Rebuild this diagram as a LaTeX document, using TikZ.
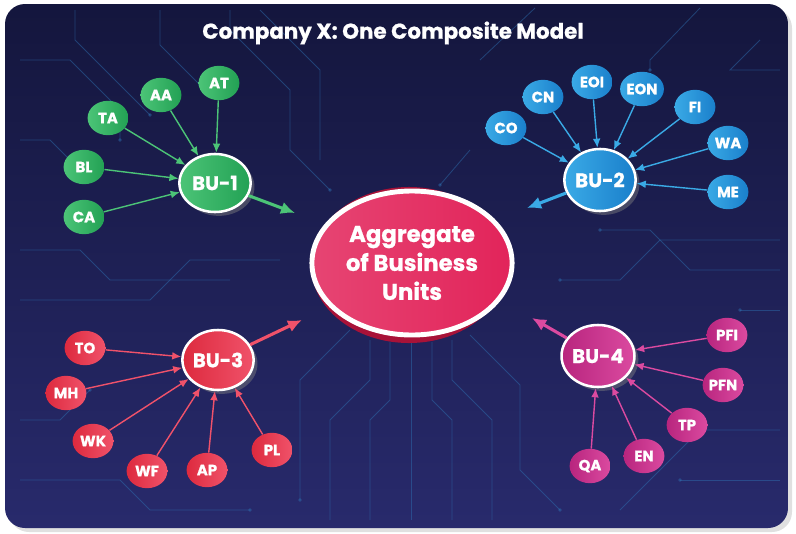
\documentclass[tikz,border=0pt]{standalone}
\usepackage{fontspec}
\setmainfont{Poppins}[BoldFeatures={FakeBold=0.8}]
\usetikzlibrary{shapes.geometric, arrows.meta, shadows}
\definecolor{panelTop}{HTML}{14163D}
\definecolor{panelBot}{HTML}{282A6C}
\definecolor{trace}{HTML}{2F74B5}
\definecolor{buGreen}{HTML}{22A154}
\definecolor{buGreenL}{HTML}{4CC477}
\definecolor{buBlue}{HTML}{1A7FCB}
\definecolor{buBlueL}{HTML}{3AAAE6}
\definecolor{buRed}{HTML}{DD2A3E}
\definecolor{buRedL}{HTML}{F0526A}
\definecolor{buPink}{HTML}{B8257E}
\definecolor{buPinkL}{HTML}{DB4AA0}
\definecolor{aggRed}{HTML}{E2245A}
\definecolor{aggDark}{HTML}{A81238}

\begin{document}
\begin{tikzpicture}[x=0.025cm, y=-0.025cm,
    sat/.style={ellipse, inner sep=0pt, minimum width=1.02cm, minimum height=0.86cm,
      text=white, font=\bfseries\fontsize{10.6}{11}\selectfont},
    hub/.style={ellipse, draw=white, line width=1.8pt, inner sep=0pt,
      minimum width=1.78cm, minimum height=1.5cm, text=white,
      font=\bfseries\fontsize{14}{15}\selectfont, drop shadow={opacity=0.45}},
    feed/.style={-{Latex[length=6.5pt,width=5.5pt]}, line width=1pt},
    toagg/.style={-{Latex[length=10pt,width=9pt]}, line width=2.2pt},
    trc/.style={trace, opacity=0.45, line width=0.6pt}]
  \useasboundingbox (0,0) rectangle (796,533);

  % panel
  \fill[black!12, rounded corners=0.5cm] (9,8) rectangle (792,532);
  \shade[top color=panelTop, bottom color=panelBot, rounded corners=0.5cm]
    (5,4) rectangle (788,528);

  % circuit traces
  \draw[trc] (20,60) -- (70,60) -- (120,110) -- (120,140);
  \draw[trc] (75,10) -- (75,40) -- (150,115);
  \draw[trc] (230,10) -- (230,30) -- (290,90) -- (290,150) -- (330,190);
  \draw[trc] (260,10) -- (320,70) -- (320,160);
  \draw[trc] (160,10) -- (160,45) -- (200,85);
  \draw[trc] (20,250) -- (80,250) -- (110,280) -- (230,280);
  \draw[trc] (20,300) -- (150,300) -- (190,260) -- (280,260);
  \draw[trc] (20,140) -- (50,140) -- (90,180);
  \draw[trc] (480,60) -- (535,8);
  \draw[trc] (700,8) -- (650,60) -- (650,70);
  \draw[trc] (760,40) -- (730,70) -- (780,70);
  \draw[trc] (470,150) -- (440,185);
  \draw[trc] (600,230) -- (650,230) -- (690,270) -- (780,270);
  \draw[trc] (560,280) -- (620,280) -- (660,240) -- (780,240);
  \draw[trc] (740,310) -- (780,310);
  \draw[trc] (370,340) -- (370,380) -- (330,420) -- (330,520);
  \draw[trc] (390,342) -- (390,400) -- (370,420) -- (370,520);
  \draw[trc] (411,343) -- (411,520);
  \draw[trc] (432,342) -- (432,400) -- (452,420) -- (452,520);
  \draw[trc] (452,340) -- (452,380) -- (492,420) -- (492,520);
  \draw[trc] (470,335) -- (520,385) -- (520,470) -- (560,510);
  \draw[trc] (350,330) -- (300,380) -- (300,500);
  \draw[trc] (20,480) -- (120,480) -- (150,510) -- (250,510);
  \draw[trc] (20,420) -- (60,420) -- (90,390);
  \draw[trc] (680,480) -- (780,480);
  \draw[trc] (620,510) -- (700,430) -- (780,430);
  \foreach \p in {(120,140),(150,115),(200,85),(330,190),(90,180),(650,70),
      (440,185),(600,230),(560,280),(740,310),(300,500),(560,510),(90,390),
      (680,480),(250,510)}
    \fill[trc] \p circle (1.3pt);

  % title
  \node[text=white, font=\bfseries\fontsize{15.2}{16}\selectfont] (title) at (393,33)
    {Company X: One Composite Model};

  % aggregate
  \node[ellipse, fill=aggDark, minimum width=4.9cm, minimum height=3.9cm] (aggOut)
    at (409,265) {};
  \node[ellipse, draw=white, line width=3.5pt, left color=aggRed!85!white,
    right color=aggRed, minimum width=4.55cm, minimum height=3.6cm, align=center,
    text=white, font=\bfseries\fontsize{16.2}{20.6}\selectfont] (agg) at (412,263)
    {Aggregate\\of Business\\Units};

  % BU-1 group
  \node[hub, left color=buGreenL, right color=buGreen, minimum height=1.45cm] (bu1) at (215,183) {BU-1};
  \node[sat, left color=buGreenL, right color=buGreen] (at) at (219,83) {AT};
  \node[sat, left color=buGreenL, right color=buGreen] (aa) at (161,95) {AA};
  \node[sat, left color=buGreenL, right color=buGreen] (ta) at (108,118) {TA};
  \node[sat, left color=buGreenL, right color=buGreen] (bl) at (84,167) {BL};
  \node[sat, left color=buGreenL, right color=buGreen] (ca) at (84,217) {CA};
  \foreach \s in {at,aa,ta,bl,ca}
    \draw[feed, buGreenL] (\s) -- (bu1);
  \coordinate (tip1) at (295,213);
  \draw[toagg, buGreenL] (bu1) -- (tip1);

  % BU-2 group
  \node[hub, left color=buBlueL, right color=buBlue, minimum height=1.55cm] (bu2) at (600,180) {BU-2};
  \node[sat, left color=buBlueL, right color=buBlue] (co) at (506,128) {CO};
  \node[sat, left color=buBlueL, right color=buBlue] (cn) at (543,97) {CN};
  \node[sat, left color=buBlueL, right color=buBlue] (eoi) at (592,82) {EOI};
  \node[sat, left color=buBlueL, right color=buBlue] (eon) at (642,89) {EON};
  \node[sat, left color=buBlueL, right color=buBlue] (fi) at (695,107) {FI};
  \node[sat, left color=buBlueL, right color=buBlue] (wa) at (728,143) {WA};
  \node[sat, left color=buBlueL, right color=buBlue] (me) at (728,192) {ME};
  \foreach \s in {co,cn,eoi,eon,fi,wa,me}
    \draw[feed, buBlueL] (\s) -- (bu2);
  \coordinate (tip2) at (527,208);
  \draw[toagg, buBlueL] (bu2) -- (tip2);

  % BU-3 group
  \node[hub, left color=buRed, right color=buRedL] (bu3) at (218,360) {BU-3};
  \node[sat, left color=buRed, right color=buRedL] (to) at (85,348) {TO};
  \node[sat, left color=buRed, right color=buRedL] (mh) at (66,393) {MH};
  \node[sat, left color=buRed, right color=buRedL] (wk) at (93,441) {WK};
  \node[sat, left color=buRed, right color=buRedL] (wf) at (147,471) {WF};
  \node[sat, left color=buRed, right color=buRedL] (ap) at (207,470) {AP};
  \node[sat, left color=buRed, right color=buRedL] (pl) at (272,450) {PL};
  \foreach \s in {to,mh,wk,wf,ap,pl}
    \draw[feed, buRedL] (\s) -- (bu3);
  \coordinate (tip3) at (302,320);
  \draw[toagg, buRedL] (bu3) -- (tip3);

  % BU-4 group
  \node[hub, left color=buPink, right color=buPinkL, minimum height=1.55cm] (bu4) at (598,356) {BU-4};
  \node[sat, left color=buPink, right color=buPinkL] (pfi) at (727,335) {PFI};
  \node[sat, left color=buPink, right color=buPinkL] (pfn) at (723,385) {PFN};
  \node[sat, left color=buPink, right color=buPinkL] (tp) at (687,425) {TP};
  \node[sat, left color=buPink, right color=buPinkL] (en) at (644,456) {EN};
  \node[sat, left color=buPink, right color=buPinkL] (qa) at (590,466) {QA};
  \foreach \s in {pfi,pfn,tp,en,qa}
    \draw[feed, buPinkL] (\s) -- (bu4);
  \coordinate (tip4) at (532,318);
  \draw[toagg, buPinkL] (bu4) -- (tip4);
\end{tikzpicture}
\end{document}
